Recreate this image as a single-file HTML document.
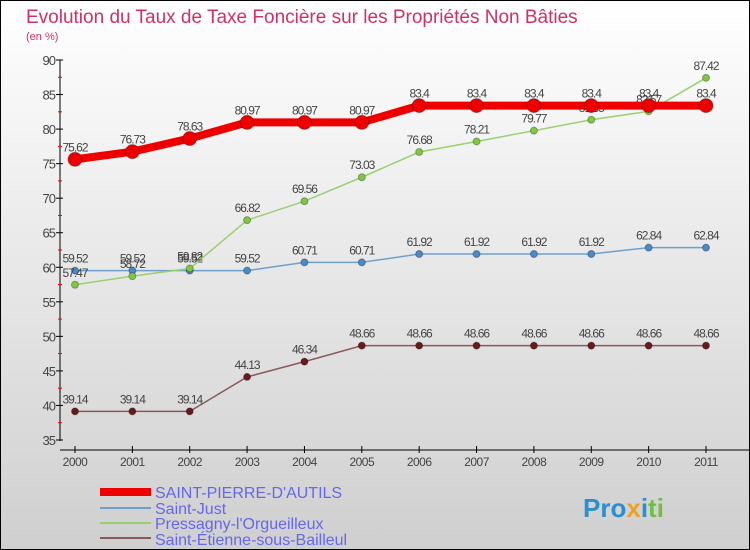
<!DOCTYPE html>
<html><head><meta charset="utf-8"><style>
body{margin:0;width:750px;height:550px;overflow:hidden;font-family:"Liberation Sans",sans-serif}
#c{position:absolute;left:0;top:0;width:748px;height:548px;border:1px solid #000;background:linear-gradient(#fff,#cfcfcf)}
</style></head><body>
<div id="c"></div>
<svg id="s" width="750" height="550" style="position:absolute;left:0;top:0">
<text x="26" y="23" font-size="19" fill="#d0306a">Evolution du Taux de Taxe Foncière sur les Propriétés Non Bâties</text>
<text x="26" y="40" font-size="11" fill="#d0306a">(en %)</text>
<line x1="60" y1="60" x2="60" y2="441" stroke="#000"/>
<line x1="60" y1="450" x2="750" y2="450" stroke="#000"/>
<g id="ax"></g><g id="ser"></g>
<g>
<rect x="100" y="488" width="51" height="8" fill="#e00"/>
<text x="155" y="498" font-size="16" fill="#6666ee">SAINT-PIERRE-D'AUTILS</text>
<rect x="100" y="507" width="51" height="2" fill="#6fa0cc"/>
<text x="155" y="514" font-size="16" fill="#6666ee">Saint-Just</text>
<rect x="100" y="522" width="51" height="2" fill="#99d070"/>
<text x="155" y="529" font-size="16" fill="#6666ee">Pressagny-l'Orgueilleux</text>
<rect x="100" y="537" width="51" height="2" fill="#8a5a5a"/>
<text x="155" y="545" font-size="16" fill="#6666ee">Saint-Étienne-sous-Bailleul</text>
</g>
<text x="583" y="517" font-size="26" font-weight="bold"><tspan fill="#2a8fd0">Pro</tspan><tspan fill="#f0a020">x</tspan><tspan fill="#2a8fd0">i</tspan><tspan fill="#70c040">ti</tspan></text>
</svg>
<script>
const years=[2000,2001,2002,2003,2004,2005,2006,2007,2008,2009,2010,2011];
const yTicks=[35,40,45,50,55,60,65,70,75,80,85,90];
const stPierre=[75.62,76.73,78.63,80.97,80.97,80.97,83.4,83.4,83.4,83.4,83.4,83.4];
const stJust=[59.52,59.52,59.52,59.52,60.71,60.71,61.92,61.92,61.92,61.92,62.84,62.84];
const pressagny=[57.47,58.72,59.82,66.82,69.56,73.03,76.68,78.21,79.77,81.35,82.57,87.42];
const stEtienne=[39.14,39.14,39.14,44.13,46.34,48.66,48.66,48.66,48.66,48.66,48.66,48.66];
const NS="http://www.w3.org/2000/svg";
const X=i=>75+i*(706-75)/11, Y=v=>60+(90-v)*380/55;
function mk(t,a,p){const e=document.createElementNS(NS,t);for(const k in a)e.setAttribute(k,a[k]);p.appendChild(e);return e;}
const ax=document.getElementById('ax');
const yMax=yTicks[yTicks.length-1];
yTicks.forEach(v=>{
 const l=mk('line',{x1:56,x2:63,y1:Y(v),y2:Y(v),stroke:'#000'},ax);
 
 
 if(v<yMax){
  const m=mk('line',{x1:58,x2:62,y1:Y(v+2.5),y2:Y(v+2.5),stroke:'#e00'},ax);
  
  
 }
 const t=mk('text',{x:55,y:Y(v)+5,'text-anchor':'end','font-size':13,fill:'#444','letter-spacing':'-1'},ax);t.textContent=v;
 
 
});
years.forEach((yr,i)=>{
 const l=mk('line',{x1:X(i),x2:X(i),y1:446,y2:453,stroke:'#000'},ax);
 
 
 const t=mk('text',{x:X(i),y:466,'text-anchor':'middle','font-size':12,fill:'#444','letter-spacing':'-0.5'},ax);t.textContent=yr;
 
 
});
const ser=document.getElementById('ser');
function series(vals,name,col,w,r,dotc){
 const g=mk('g',{},ser);
 
 
 const p=mk('polyline',{points:vals.map((v,i)=>X(i)+','+Y(v)).join(' '),fill:'none',stroke:col,'stroke-width':w},g);
 
 
 vals.forEach((v,i)=>{
  const c=mk('circle',{cx:X(i),cy:Y(v),r:r,fill:dotc,stroke:'rgba(0,0,0,0.3)','stroke-width':1},g);
  
  
  const t=mk('text',{x:X(i),y:Y(v)-8,'text-anchor':'middle','font-size':12,fill:'#444','letter-spacing':'-1'},g);t.textContent=v;
  
  
 });
}
series(stEtienne,'saint-etienne','#8a5a5a',1.5,3.5,'#6a1a1a');
series(stJust,'saint-just','#6fa0cc',1.5,3.5,'#4a8ac8');
series(pressagny,'pressagny','#99d070',1.5,3.5,'#80c840');
series(stPierre,'saint-pierre','#e00',8,7,'#e00');
</script>
</body></html>
